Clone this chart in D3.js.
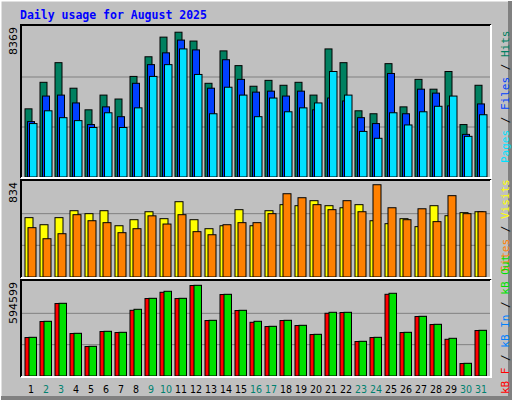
<!DOCTYPE html>
<html><head><meta charset="utf-8">
<script src="https://cdn.jsdelivr.net/npm/d3@7"></script>
<style>body{margin:0;background:#fff}</style>
</head><body>
<svg width="512" height="400"></svg>
<script>
const days = d3.range(1, 32);
const weekends = [2, 3, 9, 10, 16, 17, 23, 24, 30, 31];
const hits = [3803,5283,6379,4954,3748,4570,4351,5612,6708,7804,8078,7584,5228,7036,6214,5064,5392,5118,5283,4570,7146,6379,3694,3529,6324,3913,5447,4899,5886,2926,5118];
const files = [3091,4516,4570,4132,2926,3913,3365,5228,6269,6927,7639,7091,4954,6543,5447,4735,4790,4516,4790,3748,4406,4242,3310,2981,5776,3529,4899,4680,3968,2378,4077];
const pages = [2981,3694,3310,3146,2762,3584,2762,3858,5612,6269,7146,5721,3529,5009,4570,3365,4406,3639,3858,4132,5886,4570,2543,2159,3584,2904,3639,3946,4516,2269,3474];
const visits = [521,459,521,582,556,582,450,503,573,512,661,503,424,450,591,450,582,635,626,670,626,608,635,494,468,512,442,626,538,565,573];
const sites = [433,336,380,547,494,477,389,424,537,465,547,398,371,459,477,477,556,731,696,635,591,670,573,810,608,503,599,486,714,556,573];
const kbOut = [244816,346032,459900,270120,187882,282772,276446,421944,491530,535812,491530,573768,352358,516834,415618,346032,314402,352358,320728,263794,402966,402966,219512,244816,523160,276446,377662,327054,238490,80340,289098];
const kbIn = [243300,344500,458400,268600,186400,281300,274900,415600,490000,529500,490000,572300,350800,515300,414100,339700,312900,350800,319200,262300,396600,401500,218000,243300,516800,274900,376200,325500,232200,78800,287600];
const maxHits = 8369, maxVisits = 834, maxKB = 594599;

const svg = d3.select('svg');
svg.append('rect').attr('width', 512).attr('height', 400).attr('fill', '#c0c0c0');
svg.append('path').attr('d', 'M0,400V0H512').attr('fill', 'none').attr('stroke', '#fff').attr('stroke-width', 3);
svg.append('path').attr('d', 'M1,398H510V1').attr('fill', 'none').attr('stroke', '#808080').attr('stroke-width', 4);

svg.append('text').attr('x', 20).attr('y', 19)
    .attr('font-family', 'DejaVu Sans Mono').attr('font-weight', 'bold').attr('font-size', 11.5)
    .attr('fill', '#0000ff').text('Daily usage for August 2025');

const x = d3.scaleBand().domain(days).range([22, 487]).paddingInner(0);
const xs = d => x(d) + 3;

function panel(y0, y1, max, series, label, legend) {
    const y = d3.scaleLinear().domain([0, max]).range([y1 - 1, y0 + 2]);
    svg.append('rect').attr('x', 21).attr('y', y0).attr('width', 470).attr('height', y1 - y0)
        .attr('fill', '#c0c0c0');
    [1, 2].forEach(k => {
        svg.append('line').attr('x1', 21).attr('x2', 491)
            .attr('y1', y(max * k / 3)).attr('y2', y(max * k / 3))
            .attr('stroke', '#808080').attr('stroke-width', 1);
    });
    series.forEach(s => {
        svg.append('g').selectAll('rect').data(s.values).join('rect')
            .attr('x', (v, i) => xs(days[i]) + s.off)
            .attr('y', v => y(v))
            .attr('width', s.w)
            .attr('height', v => y(0) - y(v))
            .attr('fill', s.color).attr('stroke', '#000').attr('stroke-width', 1);
    });
    svg.append('path').attr('d', `M21,${y1}V${y0}H491`).attr('fill', 'none').attr('stroke', '#000').attr('stroke-width', 2);
    svg.append('path').attr('d', `M21,${y1}H491V${y0}`).attr('fill', 'none').attr('stroke', '#fff').attr('stroke-width', 2);
    svg.append('text').attr('transform', `translate(17,${y0 + 2}) rotate(-90)`)
        .attr('text-anchor', 'end').attr('font-family', 'DejaVu Sans').attr('font-size', 11)
        .attr('fill', '#000').text(label);
    const t = svg.append('text').attr('transform', `translate(509,${legend.y}) rotate(-90)`)
        .attr('font-family', 'DejaVu Sans Mono').attr('font-size', 11);
    legend.parts.forEach(p => t.append('tspan').attr('fill', p[1]).text(p[0]));
}

panel(25, 178, maxHits, [
    {values: hits, color: '#008060', off: 0, w: 7},
    {values: files, color: '#0040ff', off: 2.5, w: 7},
    {values: pages, color: '#00e0ff', off: 4.5, w: 7.5}
], '8369', {y: 163, parts: [['Pages', '#00e0ff'], [' / ', '#000'], ['Files', '#0040ff'], [' / ', '#000'], ['Hits', '#008060']]});

panel(180, 278, maxVisits, [
    {values: visits, color: '#ffff00', off: 0, w: 8},
    {values: sites, color: '#ff8000', off: 3, w: 8}
], '834', {y: 272, parts: [['Sites', '#ff8000'], [' / ', '#000'], ['Visits', '#ffff00']]});

panel(280, 377, maxKB, [
    {values: kbIn, color: '#ff0000', off: 0, w: 11},
    {values: kbOut, color: '#00e000', off: 4, w: 7.5}
], '594599', {y: 394, parts: [['kB F', '#ff0000'], [' / ', '#000'], ['kB In', '#0080ff'], [' / ', '#000'], ['kB Out', '#00e000']]});

svg.append('g').selectAll('text').data(days).join('text')
    .attr('x', d => xs(d) + 6).attr('y', 393)
    .attr('text-anchor', 'middle').attr('font-family', 'DejaVu Sans Condensed').attr('font-size', 10.5)
    .attr('fill', d => weekends.includes(d) ? '#00806f' : '#000')
    .text(d => d);
</script>
</body></html>
